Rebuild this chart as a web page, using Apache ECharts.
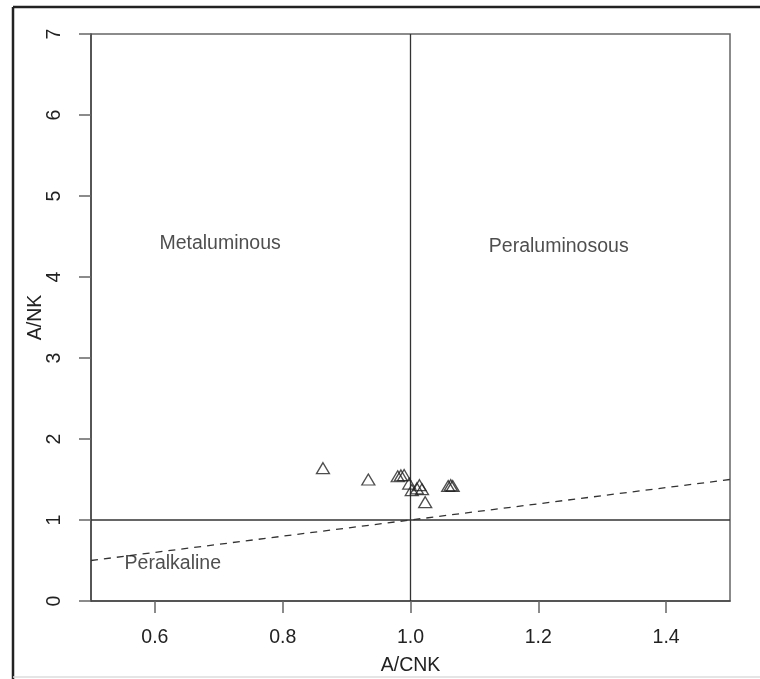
<!DOCTYPE html>
<html>
<head>
<meta charset="utf-8">
<script src="https://cdn.jsdelivr.net/npm/echarts@6/dist/echarts.min.js"></script>
<style>
  html, body { margin: 0; padding: 0; background: #fff; }
  #chart { width: 760px; height: 679px; }
</style>
</head>
<body>
<div id="chart"></div>
<script>
// sample points (A/CNK, A/NK)
const acnk = [0.863, 0.934, 0.980, 0.985, 0.990, 0.998, 1.002, 1.010, 1.014, 1.018, 1.023, 1.059, 1.063, 1.066];
const ank  = [1.64, 1.50, 1.54, 1.55, 1.555, 1.45, 1.37, 1.39, 1.43, 1.38, 1.22, 1.42, 1.43, 1.42];

const xTicks = [0.6, 0.8, 1.0, 1.2, 1.4];
const yTicks = [0, 1, 2, 3, 4, 5, 6, 7];

// divider lines
const dividerX = 1.0;
const dividerY = 1.0;
const dashX = [0.5, 1.5];
const dashY = [0.5, 1.5];

// field names
const fieldNames = ['Metaluminous', 'Peraluminosous', 'Peralkaline'];
const fieldX = [0.702, 1.232, 0.628];
const fieldY = [4.41, 4.38, 0.46];

const font = '"Liberation Sans", Arial, sans-serif';
const fs = 19.5;
const mychart = echarts.init(document.getElementById('chart'));

const option = {
  animation: false,
  backgroundColor: '#fff',
  grid: {
    show: true,
    left: 91,
    top: 34,
    right: 30,
    bottom: 78,
    outerBoundsMode: 'none',
    borderColor: '#666',
    borderWidth: 1.5,
    backgroundColor: 'transparent'
  },
  xAxis: {
    type: 'value',
    min: 0.5,
    max: 1.5,
    name: 'A/CNK',
    nameLocation: 'middle',
    nameGap: 55,
    nameMoveOverlap: false,
    nameTextStyle: { fontFamily: font, fontSize: fs, color: '#222' },
    axisLine: { show: true, onZero: false, lineStyle: { color: '#444', width: 1.5 } },
    axisTick: {
      show: true,
      length: 12,
      lineStyle: { color: '#666', width: 1.5 },
      customValues: xTicks
    },
    axisLabel: {
      fontFamily: font,
      fontSize: fs,
      color: '#222',
      margin: 27,
      customValues: xTicks,
      formatter: v => v.toFixed(1)
    },
    splitLine: { show: false }
  },
  yAxis: {
    type: 'value',
    min: 0,
    max: 7,
    interval: 1,
    name: 'A/NK',
    nameLocation: 'middle',
    nameGap: 45,
    nameMoveOverlap: false,
    nameTextStyle: { fontFamily: font, fontSize: fs, color: '#222' },
    axisLine: { show: true, onZero: false, lineStyle: { color: '#444', width: 1.5 } },
    axisTick: { show: true, length: 12, lineStyle: { color: '#666', width: 1.5 } },
    axisLabel: {
      fontFamily: font,
      fontSize: fs,
      color: '#222',
      rotate: 90,
      margin: 26,
      formatter: v => yTicks.includes(v) ? String(v) : ''
    },
    splitLine: { show: false }
  },
  series: [
    {
      type: 'line',
      data: [[dividerX, 0], [dividerX, 7]],
      symbol: 'none',
      lineStyle: { color: '#333', width: 1.3 },
      silent: true
    },
    {
      type: 'line',
      data: [[0.5, dividerY], [1.5, dividerY]],
      symbol: 'none',
      lineStyle: { color: '#333', width: 1.3 },
      silent: true
    },
    {
      type: 'line',
      data: dashX.map((x, i) => [x, dashY[i]]),
      symbol: 'none',
      lineStyle: { color: '#333', width: 1.3, type: [7, 6] },
      silent: true
    },
    {
      type: 'scatter',
      data: acnk.map((x, i) => [x, ank[i]]),
      symbol: 'triangle',
      symbolSize: [13, 11],
      itemStyle: { color: 'rgba(255,255,255,0)', borderColor: '#222', borderWidth: 1.3 },
      z: 5
    },
    {
      type: 'scatter',
      data: fieldNames.map((n, i) => ({ name: n, value: [fieldX[i], fieldY[i]] })),
      symbolSize: 0,
      label: {
        show: true,
        position: 'inside',
        formatter: p => p.name,
        fontFamily: font,
        fontSize: fs,
        color: '#222'
      },
      silent: true,
      z: 6
    }
  ],
  graphic: [
    // outer frame of the figure
    { type: 'line', shape: { x1: 13, y1: 7, x2: 760, y2: 7 }, style: { stroke: '#222', lineWidth: 2.5 } },
    { type: 'line', shape: { x1: 13, y1: 7, x2: 13, y2: 679 }, style: { stroke: '#222', lineWidth: 2.5 } },
    { type: 'line', shape: { x1: 13, y1: 677, x2: 760, y2: 677 }, style: { stroke: '#ddd', lineWidth: 1.5 } }
  ]
};

mychart.setOption(option);
</script>
</body>
</html>
